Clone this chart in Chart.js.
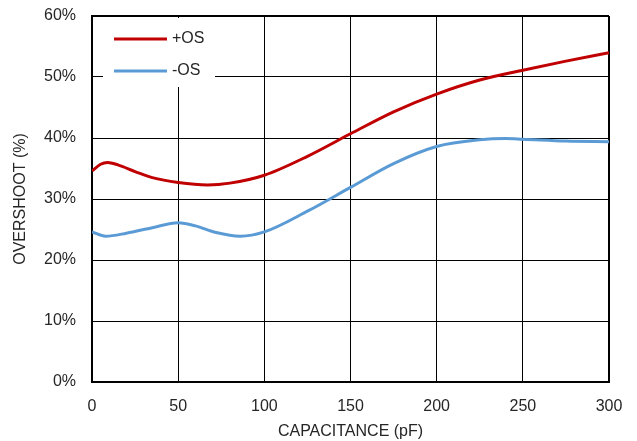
<!DOCTYPE html>
<html>
<head>
<meta charset="utf-8">
<script src="https://cdn.jsdelivr.net/npm/chart.js@4.4.1/dist/chart.umd.min.js"></script>
<style>
  html, body { margin: 0; padding: 0; background: #fff; }
  #wrap { width: 637px; height: 441px; }
</style>
</head>
<body>
<div id="wrap"><canvas id="chart" width="637" height="441"></canvas></div>
<script>
/* ========================================
   DADOS
   ======================================== */

// capacitância (pF) e overshoot (%)
const capPos = [0, 5, 9, 15, 25, 35, 50, 67, 80, 100, 125, 150, 175, 200, 225, 250, 275, 300];
const osPos  = [34.6, 35.7, 36.0, 35.6, 34.5, 33.5, 32.7, 32.3, 32.6, 33.9, 37.0, 40.7, 44.3, 47.2, 49.5, 51.1, 52.6, 54.0];

const capNeg = [0, 8, 20, 35, 50, 60, 72, 86, 100, 125, 150, 175, 200, 225, 240, 250, 275, 300];
const osNeg  = [24.6, 23.9, 24.4, 25.3, 26.1, 25.6, 24.5, 23.9, 24.6, 28.0, 31.9, 35.8, 38.6, 39.7, 39.9, 39.8, 39.5, 39.4];

const xTicks = [0, 50, 100, 150, 200, 250, 300];
const yTicks = [0, 10, 20, 30, 40, 50, 60];

const seriesNames = ['+OS', '-OS'];
const seriesColors = ['#C00000', '#5B9BD5'];

const FONT = '"Liberation Sans Narrow", "Arial Narrow", "Liberation Sans", Arial, sans-serif';
const TEXT = '#262626';

function pares(xs, ys) {
  return xs.map((x, i) => ({ x: x, y: ys[i] }));
}

/* ========================================
   LEGENDA DENTRO DA ÁREA DO GRÁFICO
   ======================================== */

const legendaInterna = {
  id: 'legendaInterna',
  beforeDatasetsDraw(chart) {
    const ctx = chart.ctx;
    const area = chart.chartArea;
    ctx.save();
    // caixa branca cobrindo a grade
    ctx.fillStyle = '#fff';
    ctx.fillRect(area.left + 11, area.top + 2, 112, 69);
    ctx.font = '16px ' + FONT;
    ctx.textBaseline = 'middle';
    chart.data.datasets.forEach((ds, i) => {
      const y = area.top + 23 + i * 32;
      ctx.strokeStyle = ds.borderColor;
      ctx.lineWidth = 3;
      ctx.beginPath();
      ctx.moveTo(area.left + 22, y);
      ctx.lineTo(area.left + 75, y);
      ctx.stroke();
      ctx.fillStyle = TEXT;
      ctx.fillText(ds.label, area.left + 80, y);
    });
    ctx.restore();
  }
};

/* ========================================
   GRÁFICO
   ======================================== */

function buildChart() {
  const canvas = document.getElementById('chart');

  new Chart(canvas, {
    type: 'line',
    data: {
      datasets: [
        {
          label: seriesNames[0],
          data: pares(capPos, osPos),
          borderColor: seriesColors[0],
          borderWidth: 3,
          pointRadius: 0,
          cubicInterpolationMode: 'monotone'
        },
        {
          label: seriesNames[1],
          data: pares(capNeg, osNeg),
          borderColor: seriesColors[1],
          borderWidth: 3,
          pointRadius: 0,
          cubicInterpolationMode: 'monotone'
        }
      ]
    },
    options: {
      responsive: false,
      animation: false,
      layout: {
        padding: { top: 16, right: 28, left: 0, bottom: 0 }
      },
      plugins: {
        legend: { display: false },
        tooltip: { enabled: false }
      },
      scales: {
        x: {
          type: 'linear',
          min: 0,
          max: 300,
          afterBuildTicks: s => { s.ticks = xTicks.map(v => ({ value: v })); },
          afterFit: s => {
            s.height = 59;
            s.paddingLeft = 0;
            s.paddingRight = 0;
          },
          ticks: {
            color: TEXT,
            font: { family: FONT, size: 16 },
            padding: 15,
            maxRotation: 0
          },
          grid: {
            color: '#000',
            lineWidth: c => (c.tick && c.tick.value === 300 ? 2 : 1),
            drawTicks: false
          },
          border: { display: true, color: '#000', width: 2 },
          title: {
            display: true,
            text: 'CAPACITANCE (pF)',
            color: TEXT,
            font: { family: FONT, size: 16 },
            padding: { top: 0, bottom: 0 }
          }
        },
        y: {
          min: 0,
          max: 60,
          afterBuildTicks: s => { s.ticks = yTicks.map(v => ({ value: v })); },
          afterFit: s => {
            s.width = 92;
            s.paddingTop = 0;
            s.paddingBottom = 0;
          },
          ticks: {
            color: TEXT,
            font: { family: FONT, size: 16 },
            padding: 16,
            callback: v => v + '%'
          },
          grid: {
            color: '#000',
            lineWidth: c => (c.tick && c.tick.value === 60 ? 2 : 1),
            drawTicks: false
          },
          border: { display: true, color: '#000', width: 2 },
          title: {
            display: true,
            text: 'OVERSHOOT (%)',
            color: TEXT,
            font: { family: FONT, size: 16 },
            padding: { top: 11, bottom: 0 }
          }
        }
      }
    },
    plugins: [legendaInterna]
  });
}

buildChart();
</script>
</body>
</html>
